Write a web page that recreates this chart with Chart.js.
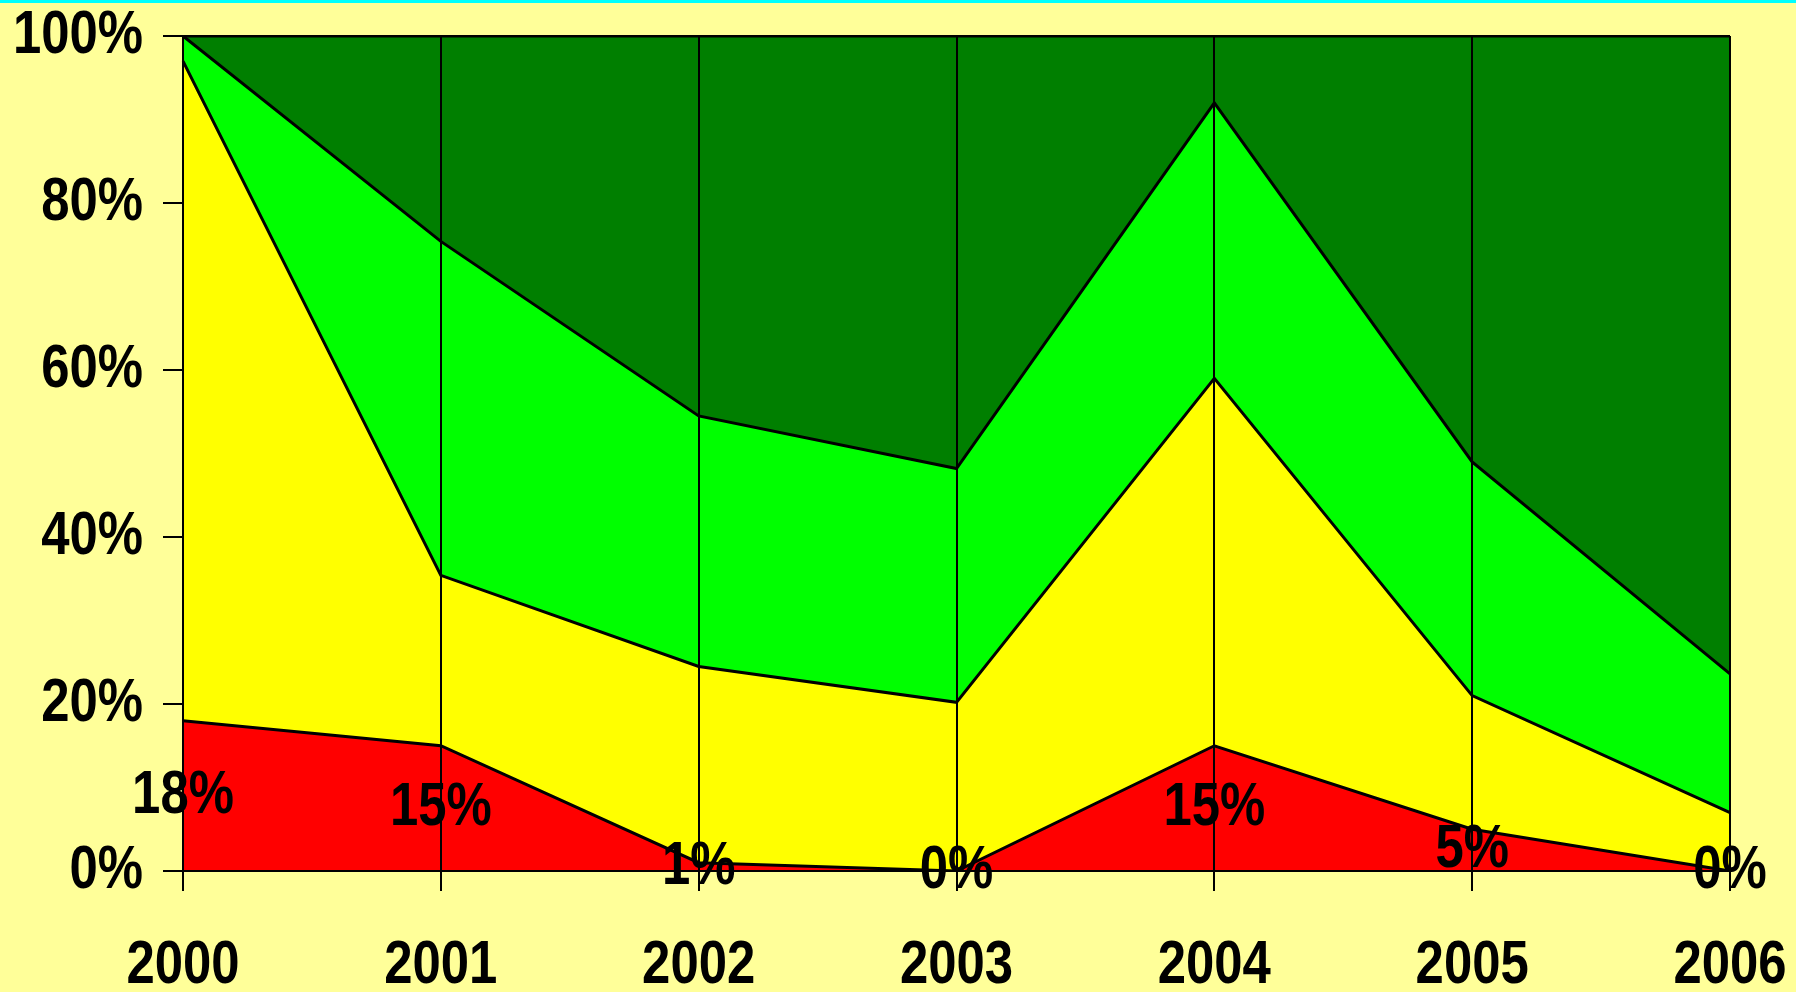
<!DOCTYPE html>
<html>
<head>
<meta charset="utf-8">
<script src="https://cdn.jsdelivr.net/npm/chart.js@4"></script>
<style>
  html, body { margin: 0; padding: 0; background: #FFFF99; }
  #topLine { height: 3px; background: #00FFFF; }
  #wrap { width: 1796px; height: 989px; position: relative; }
</style>
</head>
<body>
<div id="topLine"></div>
<div id="wrap"><canvas id="shareChart"></canvas></div>
<script>
// values (percent of each year's total)
const years = ['2000', '2001', '2002', '2003', '2004', '2005', '2006'];
const redShare = [18, 15, 1, 0, 15, 5, 0];
const yellowShare = [79, 20.4, 23.5, 20.2, 44, 16, 7];
const greenShare = [3, 40, 30, 28, 33, 28, 16.6];
const darkGreenShare = [0, 24.6, 45.5, 51.8, 8, 51, 76.4];
const yTicks = [0, 20, 40, 60, 80, 100];

const FONT = "'Liberation Sans', Arial, sans-serif";
const FONT_SIZE = 62;
const NARROW = 0.82; // no Arial Narrow installed: squeeze the bold sans instead

// squeeze all canvas text horizontally (keeps the alignment anchor in place)
const canvas = document.getElementById('shareChart');
const ctx2d = canvas.getContext('2d');
const origFillText = ctx2d.fillText.bind(ctx2d);
ctx2d.fillText = function (text, x, y) {
    this.save();
    this.translate(x, y);
    this.scale(NARROW, 1);
    origFillText(text, 0, 0);
    this.restore();
};

// draws the red series values in the middle of the red band
const redLabels = {
    id: 'redLabels',
    afterDraw(chart) {
        const meta = chart.getDatasetMeta(0);
        const yScale = chart.scales.y;
        const ctx = chart.ctx;
        ctx.save();
        ctx.font = 'bold ' + FONT_SIZE + 'px ' + FONT;
        ctx.fillStyle = '#000';
        ctx.textAlign = 'center';
        ctx.textBaseline = 'middle';
        meta.data.forEach((pt, i) => {
            const v = redShare[i];
            ctx.fillText(Math.round(v) + '%', pt.x, yScale.getPixelForValue(v / 2));
        });
        ctx.restore();
    }
};

function band(label, data, color, fill) {
    return {
        label: label,
        data: data,
        backgroundColor: color,
        borderColor: '#000',
        borderWidth: 3,
        pointRadius: 0,
        tension: 0,
        fill: fill
    };
}

new Chart(canvas, {
    type: 'line',
    data: {
        labels: years,
        datasets: [
            band('Red', redShare, '#FF0000', 'origin'),
            band('Yellow', yellowShare, '#FFFF00', '-1'),
            band('Green', greenShare, '#00FF00', '-1'),
            band('Dark green', darkGreenShare, '#007F00', '-1')
        ]
    },
    options: {
        responsive: true,
        maintainAspectRatio: false,
        animation: false,
        layout: { padding: 0 },
        plugins: {
            legend: { display: false },
            tooltip: { enabled: false }
        },
        scales: {
            x: {
                offset: false,
                afterFit: (axis) => {
                    axis.height = 121;
                    axis.paddingLeft = 0;
                    axis.paddingRight = 66;
                },
                grid: {
                    color: '#000',
                    lineWidth: 2,
                    tickLength: 20,
                    z: 1 // vertical lines sit over the areas
                },
                border: { color: '#000', width: 2, z: 1 },
                ticks: {
                    color: '#000',
                    font: { family: FONT, size: FONT_SIZE, weight: 'bold' },
                    padding: 38,
                    maxRotation: 0,
                    autoSkip: false
                }
            },
            y: {
                stacked: true,
                min: 0,
                max: 100,
                afterBuildTicks: (axis) => { axis.ticks = yTicks.map(v => ({ value: v })); },
                afterFit: (axis) => {
                    axis.width = 183;
                    axis.paddingTop = 33;
                    axis.paddingBottom = 0;
                },
                grid: {
                    color: (c) => c.tick && c.tick.value === 100 ? '#000' : 'rgba(0,0,0,0)',
                    tickColor: '#000',
                    lineWidth: 2,
                    tickLength: 20,
                    z: 1
                },
                border: { color: '#000', width: 2, z: 1 },
                ticks: {
                    color: '#000',
                    font: { family: FONT, size: FONT_SIZE, weight: 'bold' },
                    padding: 20,
                    callback: (v) => v + '%'
                }
            }
        }
    },
    plugins: [redLabels]
});
</script>
</body>
</html>
